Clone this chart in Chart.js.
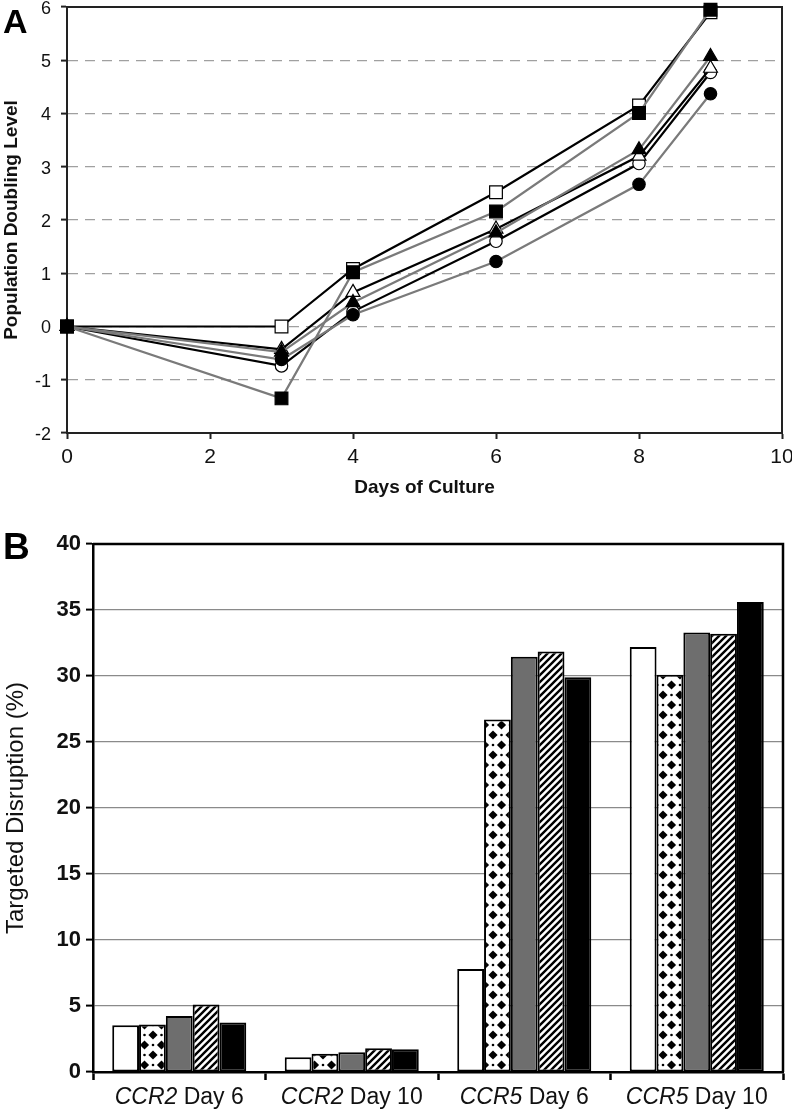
<!DOCTYPE html>
<html><head><meta charset="utf-8">
<script src="https://cdn.jsdelivr.net/npm/chart.js@4.4.0/dist/chart.umd.min.js"></script>
<style>
html,body{margin:0;padding:0;background:#fff;}
body{width:792px;height:1110px;position:relative;overflow:hidden;font-family:"Liberation Sans",Arial,sans-serif;}
canvas{position:absolute;left:0;}
.letter{position:absolute;left:3px;font-weight:bold;line-height:1;color:#000;z-index:5;}
</style></head><body>
<div class="letter" style="top:4px;font-size:34px">A</div>
<div class="letter" style="top:528px;font-size:37px">B</div>
<canvas id="chartA" style="top:0" width="792" height="505"></canvas>
<canvas id="chartB" style="top:515px" width="792" height="595"></canvas>
<script>
// ---------- Panel A data ----------
const days = [0, 3, 4, 6, 8, 9];
const openSquare     = [0,  0.00, 1.08, 2.52, 4.15, 5.90];
const filledSquare   = [0, -1.35, 1.02, 2.16, 4.01, 5.95];
const openTriangle   = [0, -0.43, 0.64, 1.83, 3.20, 4.85];
const filledTriangle = [0, -0.48, 0.45, 1.76, 3.32, 5.07];
const openCircle     = [0, -0.74, 0.28, 1.60, 3.06, 4.77];
const filledCircle   = [0, -0.62, 0.22, 1.22, 2.67, 4.37];

// ---------- Panel B data ----------
const categories = ['CCR2 Day 6', 'CCR2 Day 10', 'CCR5 Day 6', 'CCR5 Day 10'];
const whiteBars  = [3.55, 1.12, 7.8, 32.2];
const dottedBars = [3.60, 1.38, 26.7, 30.1];
const grayBars   = [4.25, 1.50, 31.45, 33.3];
const hatchBars  = [5.12, 1.80, 31.85, 33.2];
const blackBars  = [3.75, 1.72, 29.9, 35.6];

const FONT = "'Liberation Sans', Arial, sans-serif";
Chart.defaults.font.family = FONT;
Chart.defaults.color = '#111';

const pts = vals => days.map((d, i) => ({x: d, y: vals[i]}));
const noPad = s => { s.paddingTop = 0; s.paddingBottom = 0; s.paddingLeft = 0; s.paddingRight = 0; };

const framePlugin = {
  id: 'frame',
  beforeDatasetsDraw(chart, args, opts) {
    const {ctx, chartArea: {left, right, top, bottom}} = chart;
    ctx.save();
    ctx.strokeStyle = opts.color || '#000';
    ctx.lineWidth = opts.width || 2;
    ctx.beginPath();
    ctx.moveTo(left, top);
    ctx.lineTo(right, top);
    ctx.lineTo(right, bottom);
    ctx.stroke();
    ctx.restore();
  }
};

const BLACK = '#000', GRAY = '#7a7a7a';
function lineDs(label, vals, style, radius, filled, lineColor) {
  return {
    label, data: pts(vals), pointStyle: style, pointRadius: radius,
    pointBackgroundColor: filled ? '#000' : '#fff', pointBorderColor: '#000', pointBorderWidth: 1.2,
    borderColor: lineColor, borderWidth: 2.2, tension: 0, clip: false, fill: false
  };
}

new Chart(document.getElementById('chartA'), {
  type: 'line',
  data: {
    datasets: [
      lineDs('filled square', filledSquare, 'rect', 9, true, GRAY),
      lineDs('filled triangle', filledTriangle, 'triangle', 8, true, GRAY),
      lineDs('filled circle', filledCircle, 'circle', 6.2, true, GRAY),
      lineDs('open square', openSquare, 'rect', 9, false, BLACK),
      lineDs('open triangle', openTriangle, 'triangle', 8, false, BLACK),
      lineDs('open circle', openCircle, 'circle', 6.2, false, BLACK)
    ]
  },
  options: {
    responsive: false, animation: false,
    layout: {padding: {left: 0, right: 10, top: 7, bottom: 0}, autoPadding: false},
    plugins: {legend: {display: false}, tooltip: {enabled: false}, frame: {color: '#222', width: 2}},
    scales: {
      x: {
        type: 'linear', min: 0, max: 10,
        ticks: {stepSize: 2, padding: 6, font: {size: 21}, color: '#111'},
        grid: {drawOnChartArea: false, drawTicks: true, tickLength: 6, tickColor: '#222', tickWidth: 2},
        border: {color: '#222', width: 2},
        title: {display: true, text: 'Days of Culture', font: {size: 19, weight: 'bold'}, color: '#111', padding: {top: 0, bottom: 6}},
        afterFit: s => { s.height = 72; noPad(s); }
      },
      y: {
        min: -2, max: 6,
        ticks: {stepSize: 1, padding: 10, labelOffset: 2, font: {size: 18}, color: '#111'},
        grid: {color: '#a0a0a0', lineWidth: 1.2, tickLength: 6, tickColor: '#222', tickWidth: 2, tickBorderDash: []},
        border: {color: '#222', width: 2, dash: [10, 7]},
        title: {display: true, text: 'Population Doubling Level', font: {size: 19, weight: 'bold'}, color: '#111', padding: {top: 0, bottom: 0}},
        afterFit: s => { s.width = 67; noPad(s); }
      }
    }
  },
  plugins: [framePlugin]
});

// ---------- patterns ----------
function hatchPattern() {
  const n = 7;
  const c = document.createElement('canvas'); c.width = n; c.height = n;
  const g = c.getContext('2d');
  g.fillStyle = '#fff'; g.fillRect(0, 0, n, n);
  g.strokeStyle = '#000'; g.lineWidth = 2.4; g.lineCap = 'square';
  g.beginPath();
  g.moveTo(-2, n + 2); g.lineTo(n + 2, -2);
  g.moveTo(-2, 2); g.lineTo(2, -2);
  g.moveTo(n - 2, n + 2); g.lineTo(n + 2, n - 2);
  g.stroke();
  return g.createPattern(c, 'repeat');
}
function diamondPattern() {
  const w = 17, h = 20, r = 4.6;
  const c = document.createElement('canvas'); c.width = w; c.height = h;
  const g = c.getContext('2d');
  g.fillStyle = '#fff'; g.fillRect(0, 0, w, h);
  g.fillStyle = '#000';
  const dia = (x, y) => { g.beginPath(); g.moveTo(x, y - r); g.lineTo(x + r, y); g.lineTo(x, y + r); g.lineTo(x - r, y); g.closePath(); g.fill(); };
  dia(w / 2, h / 2); dia(0, 0); dia(w, 0); dia(0, h); dia(w, h);
  const dot = (x, y) => { g.beginPath(); g.arc(x, y, 1.3, 0, Math.PI * 2); g.fill(); };
  dot(w / 2, 0); dot(w / 2, h); dot(0, h / 2); dot(w, h / 2);
  return g.createPattern(c, 'repeat');
}

const labelPlugin = {
  id: 'catLabels',
  afterDraw(chart) {
    const xs = chart.scales.x, ctx = chart.ctx;
    const y = chart.chartArea.bottom + 26;
    const size = 23;
    ctx.save();
    ctx.fillStyle = '#111'; ctx.textBaseline = 'middle'; ctx.textAlign = 'left';
    chart.data.labels.forEach((lab, i) => {
      const parts = lab.split(' ');
      const gene = parts[0];
      const rest = ' ' + parts.slice(1).join(' ');
      const fi = 'italic ' + size + 'px ' + FONT;
      const fr = size + 'px ' + FONT;
      ctx.font = fi; const w1 = ctx.measureText(gene).width;
      ctx.font = fr; const w2 = ctx.measureText(rest).width;
      const x0 = xs.getPixelForValue(i) - (w1 + w2) / 2;
      ctx.font = fi; ctx.fillText(gene, x0, y);
      ctx.font = fr; ctx.fillText(rest, x0 + w1, y);
    });
    ctx.restore();
  }
};

const barDs = (label, data, bg) => ({label, data, backgroundColor: bg, borderColor: '#000', borderWidth: 2, borderSkipped: false});

new Chart(document.getElementById('chartB'), {
  type: 'bar',
  data: {
    labels: categories,
    datasets: [
      barDs('white', whiteBars, '#fff'),
      barDs('dotted', dottedBars, diamondPattern()),
      barDs('gray', grayBars, '#6e6e6e'),
      barDs('hatched', hatchBars, hatchPattern()),
      barDs('black', blackBars, '#000')
    ]
  },
  options: {
    responsive: false, animation: false,
    layout: {padding: {left: 0, right: 9, top: 29, bottom: 0}, autoPadding: false},
    datasets: {bar: {categoryPercentage: 0.777, barPercentage: 1.0}},
    plugins: {legend: {display: false}, tooltip: {enabled: false}, frame: {color: '#000', width: 2.5}},
    scales: {
      x: {
        ticks: {display: false},
        grid: {offset: true, drawOnChartArea: false, drawTicks: true, tickLength: 8, tickColor: '#000', tickWidth: 2.5},
        border: {color: '#000', width: 2.5},
        afterFit: s => { s.height = 38; noPad(s); }
      },
      y: {
        min: 0, max: 40,
        ticks: {stepSize: 5, padding: 5, font: {size: 22, weight: 'bold'}, color: '#111'},
        grid: {color: '#8a8a8a', lineWidth: 1.2, tickLength: 7, tickColor: '#000', tickWidth: 2},
        border: {color: '#000', width: 2.5},
        title: {display: true, text: 'Targeted Disruption (%)', font: {size: 24}, color: '#111', padding: {top: 2, bottom: 0}},
        afterFit: s => { s.width = 93; noPad(s); }
      }
    }
  },
  plugins: [framePlugin, labelPlugin]
});
</script>
</body></html>
